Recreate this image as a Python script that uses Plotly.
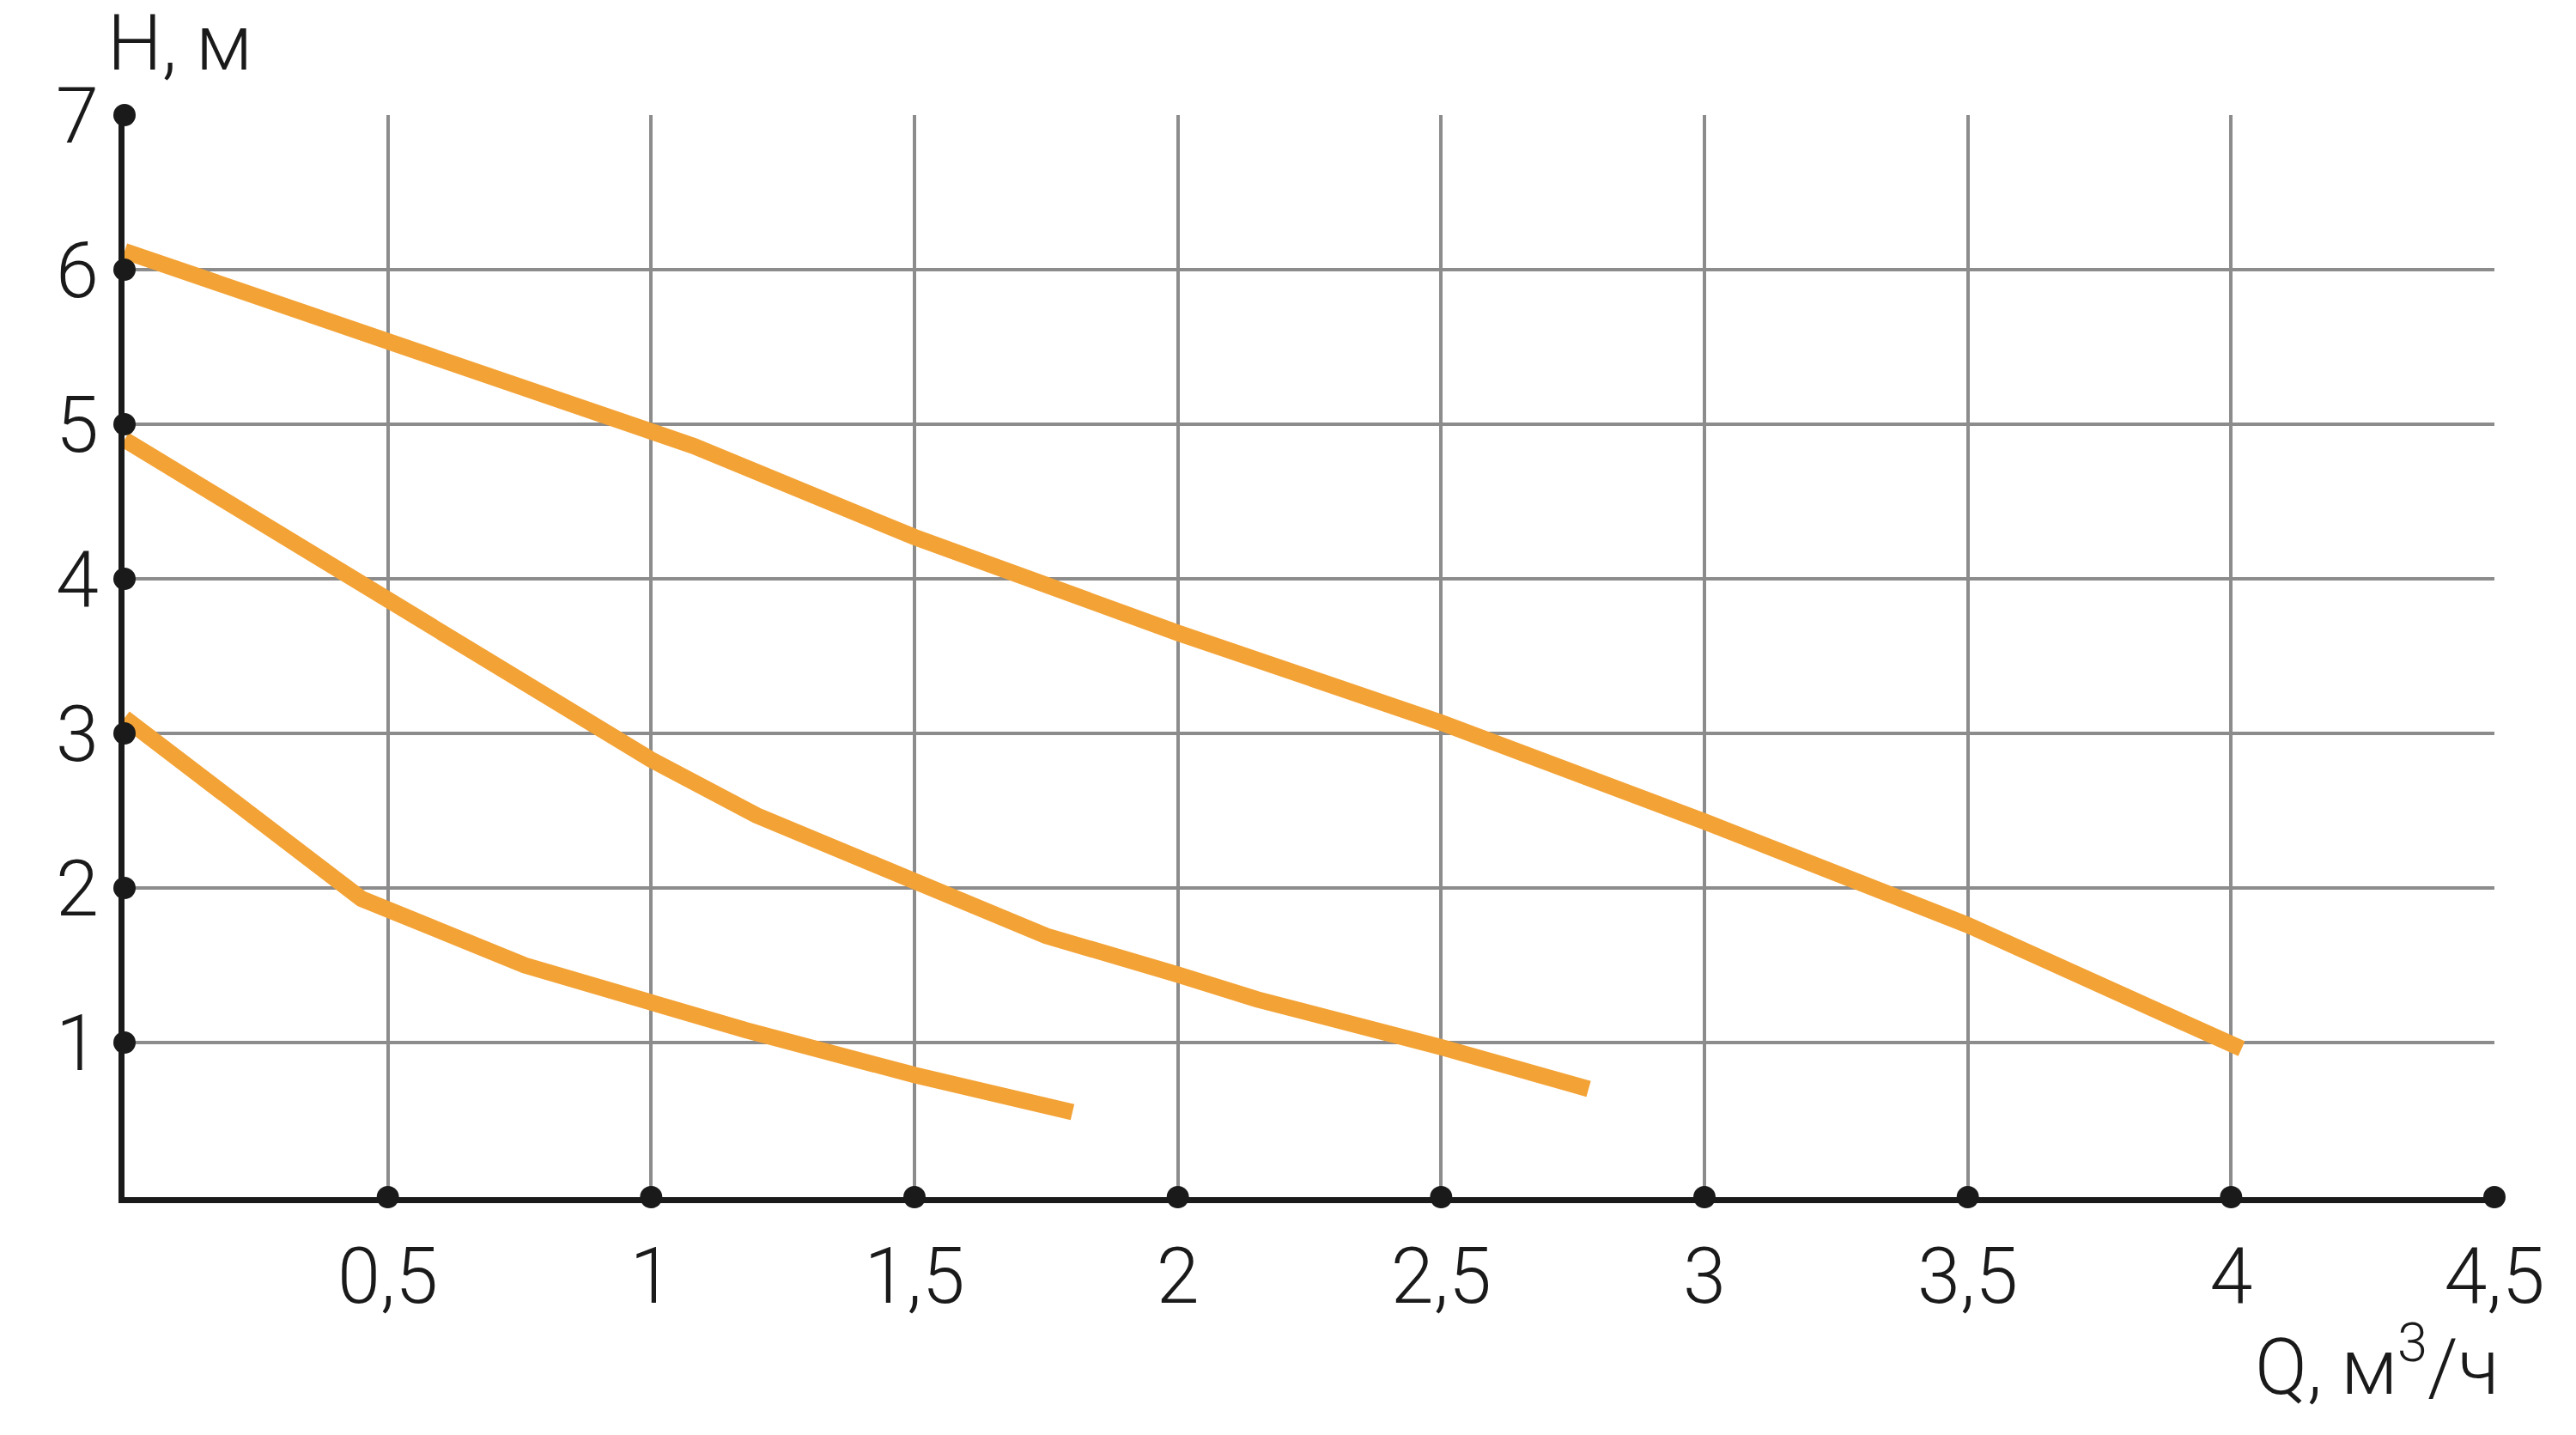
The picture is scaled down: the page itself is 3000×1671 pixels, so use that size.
import plotly.graph_objects as go

# Pump curves: Q (m3/h) vs H (m)
q_top = [0, 0.5, 1.0, 1.08, 1.5, 2.0, 2.5, 3.0, 3.5, 4.02]
h_top = [6.12, 5.54, 4.96, 4.86, 4.27, 3.65, 3.07, 2.43, 1.76, 0.96]

q_mid = [0, 0.5, 0.73, 1.0, 1.2, 1.5, 1.75, 2.0, 2.15, 2.5, 2.78]
h_mid = [4.9, 3.85, 3.38, 2.83, 2.47, 2.03, 1.69, 1.44, 1.28, 0.97, 0.70]

q_low = [0, 0.45, 0.76, 1.0, 1.18, 1.5, 1.80]
h_low = [3.1, 1.93, 1.5, 1.25, 1.08, 0.79, 0.55]

x_ticks = [0.5, 1, 1.5, 2, 2.5, 3, 3.5, 4, 4.5]
x_ticktext = ["0,5", "1", "1,5", "2", "2,5", "3", "3,5", "4", "4,5"]
y_ticks = [1, 2, 3, 4, 5, 6, 7]
y_ticktext = ["1", "2", "3", "4", "5", "6", "7"]

ORANGE = "#F3A235"
GRID = "#8c8c8c"
INK = "#1a1a1a"
FONT = "Roboto, 'DejaVu Sans', sans-serif"

fig = go.Figure()
for q, h in [(q_top, h_top), (q_mid, h_mid), (q_low, h_low)]:
    fig.add_trace(go.Scatter(x=q, y=h, mode="lines",
                             line=dict(color=ORANGE, width=19),
                             hoverinfo="skip", showlegend=False))

# tick dots on the axes
fig.add_trace(go.Scatter(x=x_ticks, y=[0] * len(x_ticks), mode="markers",
                         marker=dict(color=INK, size=26, line=dict(width=0)),
                         cliponaxis=False, showlegend=False, hoverinfo="skip"))
fig.add_trace(go.Scatter(x=[0] * len(y_ticks), y=y_ticks, mode="markers",
                         marker=dict(color=INK, size=26, line=dict(width=0)),
                         cliponaxis=False, showlegend=False, hoverinfo="skip"))

tickfont = dict(family=FONT, size=90, color=INK, weight=300)
fig.update_xaxes(range=[0, 4.5], tickvals=x_ticks, ticktext=x_ticktext,
                 showgrid=True, gridcolor=GRID, gridwidth=4,
                 showline=True, linecolor=INK, linewidth=7,
                 zeroline=False, ticks="", ticklabelstandoff=8,
                 tickfont=tickfont)
fig.update_yaxes(range=[0, 7], tickvals=y_ticks, ticktext=y_ticktext,
                 showgrid=True, gridcolor=GRID, gridwidth=4,
                 showline=True, linecolor=INK, linewidth=7,
                 zeroline=False, ticks="", ticklabelstandoff=5,
                 tickfont=tickfont)

fig.add_annotation(text="H, м", xref="paper", yref="paper", x=-0.008, y=1.066,
                   xanchor="left", yanchor="middle", showarrow=False,
                   font=dict(family=FONT, size=90, color=INK, weight=300))
fig.add_annotation(text="Q, м<sup>3</sup>/ч", xref="paper", yref="paper", x=1.003, y=-0.152,
                   xanchor="right", yanchor="middle", showarrow=False,
                   font=dict(family=FONT, size=90, color=INK, weight=300))

# page body adds an 8px offset; margins compensate for it
fig.update_layout(width=3000, height=1671,
                  margin=dict(l=137, r=103, t=126, b=285),
                  plot_bgcolor="white", paper_bgcolor="white")

fig.write_html("out.html")
